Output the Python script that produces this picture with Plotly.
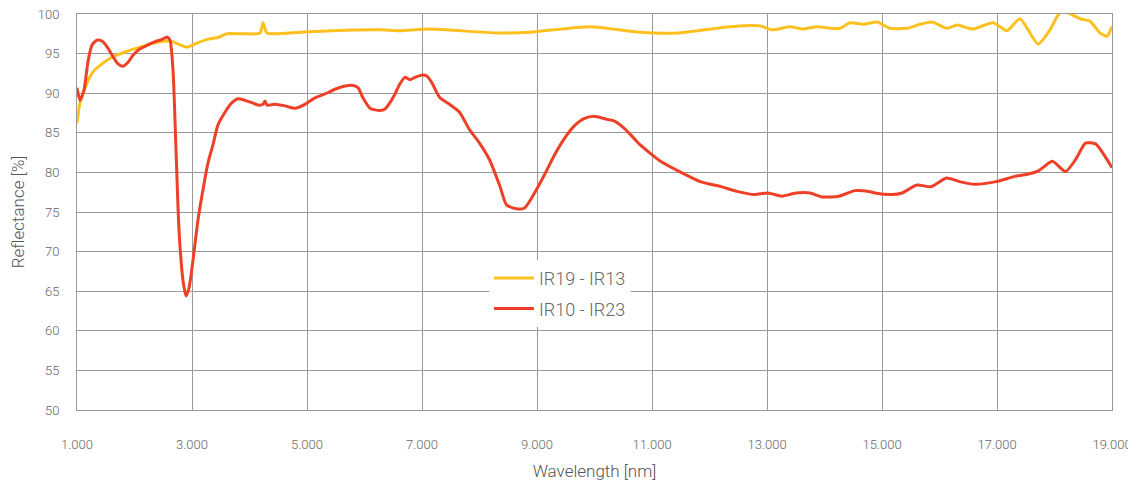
import plotly.graph_objects as go

# Red series: IR10 - IR23 (wavelength, reflectance)
red_x = [1000, 1052, 1122, 1191, 1261, 1348, 1435, 1539, 1626, 1713, 1800, 1887, 1974, 2096, 2235, 2357, 2478, 2565, 2617, 2670, 2722, 2774, 2843, 2896, 2948, 3017, 3104, 3191, 3278, 3365, 3452, 3574, 3696, 3800, 3922, 4043, 4148, 4235, 4270, 4304, 4443, 4617, 4791, 4965, 5139, 5313, 5487, 5661, 5783, 5887, 5974, 6096, 6270, 6357, 6443, 6530, 6617, 6704, 6791, 6878, 7009, 7078, 7165, 7304, 7478, 7652, 7826, 8000, 8174, 8348, 8470, 8643, 8783, 8957, 9130, 9304, 9478, 9652, 9817, 9991, 10217, 10339, 10513, 10687, 10791, 11148, 11504, 11852, 12200, 12478, 12774, 13017, 13261, 13504, 13748, 13957, 14252, 14530, 14774, 14878, 15174, 15348, 15609, 15852, 16122, 16365, 16617, 16965, 17313, 17487, 17722, 17965, 18191, 18365, 18539, 18713, 19000]
red_y = [90.7, 89.1, 90.4, 94.0, 96.1, 96.7, 96.6, 95.7, 94.6, 93.7, 93.4, 93.9, 94.8, 95.6, 96.1, 96.5, 96.8, 97.1, 96.7, 92.9, 82.8, 72.7, 66.4, 64.4, 65.4, 68.9, 74.0, 77.8, 81.2, 83.5, 86.0, 87.6, 88.8, 89.3, 89.1, 88.8, 88.5, 88.6, 89.0, 88.5, 88.6, 88.4, 88.1, 88.6, 89.4, 89.9, 90.5, 90.9, 91.0, 90.7, 89.4, 88.1, 87.8, 88.0, 88.8, 89.9, 91.2, 92.0, 91.7, 92.0, 92.3, 92.2, 91.4, 89.5, 88.6, 87.6, 85.4, 83.7, 81.6, 78.4, 75.9, 75.4, 75.5, 77.4, 79.7, 82.2, 84.3, 85.9, 86.8, 87.1, 86.7, 86.5, 85.6, 84.3, 83.5, 81.4, 80.0, 78.8, 78.2, 77.6, 77.2, 77.4, 77.0, 77.4, 77.4, 76.9, 77.0, 77.7, 77.6, 77.4, 77.2, 77.4, 78.4, 78.2, 79.3, 78.8, 78.5, 78.8, 79.5, 79.7, 80.2, 81.4, 80.1, 81.6, 83.7, 83.6, 80.6]

# Yellow series: IR19 - IR13 (wavelength, reflectance)
yel_x = [1000, 1052, 1174, 1278, 1452, 1626, 1870, 2096, 2322, 2565, 2670, 2791, 2913, 3017, 3261, 3435, 3609, 3887, 4183, 4235, 4304, 4878, 5452, 6270, 6617, 7139, 8304, 8878, 9922, 10791, 11435, 12357, 12878, 13087, 13400, 13626, 13870, 14096, 14270, 14443, 14670, 14913, 15139, 15435, 15661, 15870, 16130, 16304, 16583, 16930, 17174, 17400, 17713, 17922, 18096, 18217, 18443, 18617, 18791, 18913, 19000]
yel_y = [86.2, 88.8, 91.3, 92.7, 93.8, 94.6, 95.3, 95.8, 96.3, 96.6, 96.5, 96.1, 95.8, 96.1, 96.8, 97.0, 97.5, 97.5, 97.6, 98.9, 97.6, 97.7, 97.9, 98.0, 97.9, 98.1, 97.6, 97.7, 98.4, 97.7, 97.6, 98.4, 98.5, 98.0, 98.4, 98.1, 98.4, 98.2, 98.2, 98.9, 98.7, 99.0, 98.2, 98.2, 98.7, 99.0, 98.2, 98.6, 98.1, 98.9, 97.9, 99.4, 96.2, 98.0, 100.2, 100.2, 99.4, 99.1, 97.6, 97.2, 98.4]

x_ticks = [1000, 3000, 5000, 7000, 9000, 11000, 13000, 15000, 17000, 19000]
x_tick_labels = ["1.000", "3.000", "5.000", "7.000", "9.000", "11.000", "13.000", "15.000", "17.000", "19.000"]
y_ticks = [50, 55, 60, 65, 70, 75, 80, 85, 90, 95, 100]

fig = go.Figure()
fig.add_trace(go.Scatter(x=yel_x, y=yel_y, mode="lines", name="IR19 - IR13", legendgroup="a",
                         line=dict(color="#FDC01E", width=3, shape="spline", smoothing=0.6)))
fig.add_trace(go.Scatter(x=red_x, y=red_y, mode="lines", name="IR10 - IR23", legendgroup="b",
                         line=dict(color="#EE4027", width=3, shape="spline", smoothing=0.6)))

axis_font = dict(family="Roboto", size=13, color="#666666", weight=300)
title_font = dict(family="Roboto", size=17, color="#555555", weight=300)
# the page body has an 8px margin, so the figure is sized/offset to compensate
fig.update_layout(
    width=1128, height=478,
    margin=dict(l=69, r=24, t=6, b=76),
    paper_bgcolor="white", plot_bgcolor="white",
    font=dict(family="Roboto", color="#555555", weight=300),
    showlegend=True,
    legend=dict(x=0.398, y=0.379, xanchor="left", yanchor="top",
                bgcolor="white", font=dict(family="Roboto", size=18, color="#666666", weight=300),
                borderwidth=0, tracegroupgap=4, itemwidth=40),
)
fig.update_xaxes(range=[1000, 19000], tickvals=x_ticks, ticktext=x_tick_labels,
                 tickfont=axis_font, ticklabelstandoff=22, automargin=False,
                 ticklabeloverflow="allow",
                 showgrid=True, gridcolor="#9a9a9a", gridwidth=1,
                 showline=True, linecolor="#9a9a9a", linewidth=1, mirror=True,
                 zeroline=False, ticks="",
                 title=dict(text="Wavelength [nm]", font=title_font, standoff=14))
fig.update_yaxes(range=[50, 100], tickvals=y_ticks,
                 tickfont=axis_font, ticklabelstandoff=14, automargin=False,
                 ticklabeloverflow="allow",
                 showgrid=True, gridcolor="#9a9a9a", gridwidth=1,
                 showline=True, linecolor="#9a9a9a", linewidth=1, mirror=True,
                 zeroline=False, ticks="",
                 title=dict(text="Reflectance [%]", font=title_font, standoff=8))

fig.write_html("out.html")
